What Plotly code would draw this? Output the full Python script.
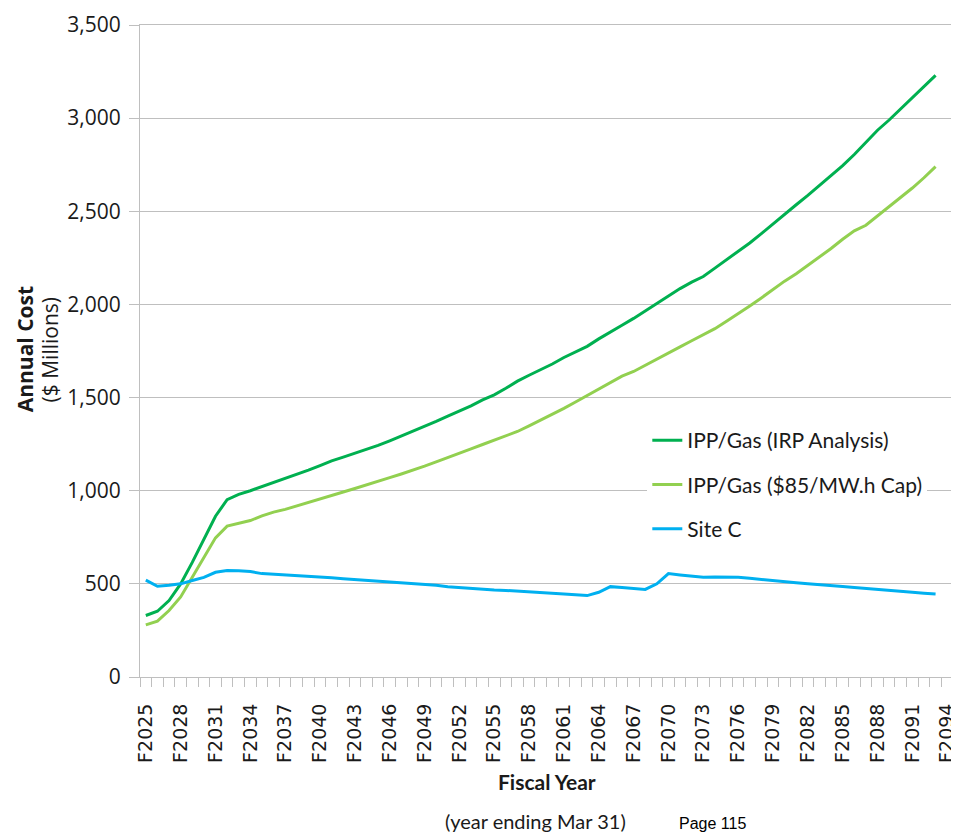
import plotly.graph_objects as go

years = list(range(2025, 2095))
tick_years = years[::3]
tick_labels = ["F" + str(y) for y in tick_years]

ipp_irp = [330, 353, 410, 500, 615, 735, 863, 952, 980, 1000,
           1022, 1045, 1067, 1085, 1110, 1135, 1160, 1180, 1200, 1222,
           1243, 1268, 1293, 1318, 1345, 1372, 1400, 1427, 1455, 1488,
           1515, 1550, 1588, 1620, 1650, 1680, 1715, 1745, 1775, 1815,
           1850, 1888, 1925, 1965, 2005, 2045, 2085, 2120, 2150, 2195,
           2240, 2285, 2330, 2380, 2430, 2485, 2535, 2585, 2638, 2690,
           2745, 2805, 2870, 2935, 2990, 3050, 3110, 3170, 3230, None]

ipp_cap = [280, 300, 357, 430, 535, 640, 747, 810, 825, 840,
           865, 885, 900, 918, 935, 955, 975, 993, 1012, 1030,
           1050, 1070, 1090, 1110, 1132, 1155, 1177, 1200, 1225, 1248,
           1270, 1295, 1318, 1348, 1378, 1410, 1442, 1476, 1510, 1545,
           1580, 1615, 1640, 1672, 1705, 1738, 1772, 1805, 1838, 1870,
           1910, 1950, 1992, 2035, 2080, 2125, 2165, 2210, 2255, 2300,
           2350, 2395, 2425, 2475, 2520, 2570, 2625, 2680, 2740, None]

site_c = [520, 487, 492, 500, 518, 535, 562, 572, 570, 566,
          555, 552, 549, 545, 541, 537, 533, 528, 524, 520,
          516, 511, 506, 500, 496, 492, 485, 480, 476, 471,
          467, 465, 462, 459, 455, 450, 446, 441, 437, 455,
          485, 480, 475, 470, 500, 555, 548, 540, 536, 537,
          538, 535, 530, 525, 520, 513, 506, 500, 494, 490,
          486, 481, 475, 469, 465, 460, 455, 450, 446, None]

series_names = ["IPP/Gas (IRP Analysis)", "IPP/Gas ($85/MW.h Cap)", "Site C"]
series_colors = ["#00B050", "#92D050", "#00B0F0"]
series_values = [ipp_irp, ipp_cap, site_c]

fig = go.Figure()
for name, color, vals in zip(series_names, series_colors, series_values):
    fig.add_trace(go.Scatter(
        x=years, y=vals, mode="lines", name=name, legendgroup=name,
        line=dict(color=color, width=3), connectgaps=False,
    ))

grid = "#BFBFBF"
txt = "#1a1a1a"
fig.update_layout(
    width=951, height=827,
    margin=dict(l=132, r=2, t=12, b=158),
    paper_bgcolor="white", plot_bgcolor="white",
    showlegend=True,
    legend=dict(
        x=0.624, y=0.394, xanchor="left", yanchor="top",
        bgcolor="white", borderwidth=0,
        font=dict(family="Lato", size=21, color=txt),
        tracegroupgap=14, itemwidth=30,
    ),
    xaxis=dict(
        range=[2024.5, 2094.5], tickvals=tick_years, ticktext=tick_labels,
        tickangle=-90, ticks="outside", ticklen=18,
        tickcolor="rgba(0,0,0,0)", ticklabeloverflow="allow",
        showgrid=False, zeroline=False,
        showline=True, mirror=True, linecolor=grid, linewidth=1,
        tickfont=dict(family="DejaVu Sans", size=19, color=txt),
        minor=dict(tick0=2024.5, dtick=1, ticks="outside", ticklen=9,
                   tickcolor=grid, tickwidth=1, showgrid=False),
    ),
    yaxis=dict(
        range=[0, 3500], tick0=0, dtick=500, tickformat=",", showgrid=True,
        gridcolor=grid, gridwidth=1, zeroline=False,
        showline=True, linecolor=grid, linewidth=1,
        ticks="outside", ticklen=10, tickcolor=grid,
        ticklabeloverflow="allow", ticklabelstandoff=4,
        tickfont=dict(family="Open Sans", size=21, color=txt),
    ),
    annotations=[
        dict(text="<b>Annual Cost</b>", textangle=-90,
             xref="paper", yref="paper", x=-0.142, y=0.502,
             xanchor="center", yanchor="middle", showarrow=False,
             font=dict(family="Open Sans", size=21, color=txt)),
        dict(text="($ Millions)", textangle=-90,
             xref="paper", yref="paper", x=-0.111, y=0.502,
             xanchor="center", yanchor="middle", showarrow=False,
             font=dict(family="Open Sans", size=21, color=txt)),
        dict(text="<b>Fiscal Year</b>", xref="paper", yref="paper",
             x=0.5006, y=-0.161, xanchor="center", yanchor="middle",
             showarrow=False,
             font=dict(family="Lato", size=21, color=txt)),
        dict(text="(year ending Mar 31)", xref="paper", yref="paper",
             x=0.486, y=-0.221, xanchor="center", yanchor="middle",
             showarrow=False,
             font=dict(family="Lato", size=20, color=txt)),
        dict(text="Page 115", xref="paper", yref="paper",
             x=0.704, y=-0.2245, xanchor="center", yanchor="middle",
             showarrow=False,
             font=dict(family="Liberation Sans", size=16, color="#000000")),
    ],
)

fig.write_html("out.html")
